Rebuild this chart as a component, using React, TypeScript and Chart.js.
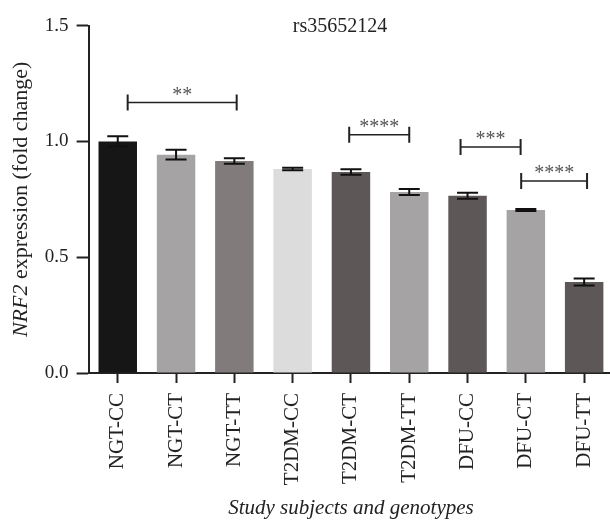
import React, { useEffect, useRef } from "react";
import { Chart, registerables } from "chart.js";

Chart.register(...registerables);

const categories = ["NGT-CC", "NGT-CT", "NGT-TT", "T2DM-CC", "T2DM-CT", "T2DM-TT", "DFU-CC", "DFU-CT", "DFU-TT"];
const means = [1.0, 0.943, 0.916, 0.881, 0.868, 0.782, 0.766, 0.704, 0.393];
const errors = [0.022, 0.021, 0.012, 0.005, 0.012, 0.013, 0.013, 0.004, 0.015];
const barColors = ["#161616", "#a5a3a4", "#817c7b", "#dcdcdc", "#5d5857", "#a5a3a4", "#5d5857", "#a5a3a4", "#5d5857"];
const yTicks = [0, 0.5, 1.0, 1.5];

const sigStart = [0.17, 3.97, 5.88, 6.92];
const sigEnd = [2.04, 5.0, 6.91, 8.05];
const sigY = [1.168, 1.029, 0.976, 0.829];
const sigLabels = ["**", "****", "***", "****"];

const titleText = "rs35652124";
const yTitleItalic = "NRF2";
const yTitleRest = " expression (fold change)";
const xTitleText = "Study subjects and genotypes";

const SERIF = "'Liberation Serif', 'Times New Roman', serif";

function catPx(xs: any, pos: number) {
  const i = Math.floor(pos);
  const p0 = xs.getPixelForValue(i);
  const p1 = xs.getPixelForValue(i + 1);
  return p0 + (pos - i) * (p1 - p0);
}

const overlayPlugin = {
  id: "overlay",
  afterDatasetsDraw(chart: any) {
    const ctx = chart.ctx;
    const xs = chart.scales.x;
    const ys = chart.scales.y;
    const area = chart.chartArea;
    ctx.save();
    // error bars
    ctx.strokeStyle = "#111";
    ctx.lineWidth = 2;
    means.forEach((m, i) => {
      const x = xs.getPixelForValue(i);
      const yTop = ys.getPixelForValue(m + errors[i]);
      const yBot = ys.getPixelForValue(m - errors[i]);
      const half = 10.5;
      ctx.beginPath();
      ctx.moveTo(x, yTop);
      ctx.lineTo(x, yBot);
      ctx.moveTo(x - half, yTop);
      ctx.lineTo(x + half, yTop);
      ctx.moveTo(x - half, yBot);
      ctx.lineTo(x + half, yBot);
      ctx.stroke();
    });
    // significance brackets
    sigLabels.forEach((lab, k) => {
      const x0 = catPx(xs, sigStart[k]);
      const x1 = catPx(xs, sigEnd[k]);
      const y = ys.getPixelForValue(sigY[k]);
      ctx.strokeStyle = "#222";
      ctx.lineWidth = 1.5;
      ctx.beginPath();
      ctx.moveTo(x0, y);
      ctx.lineTo(x1, y);
      ctx.stroke();
      ctx.lineWidth = 2;
      ctx.beginPath();
      ctx.moveTo(x0, y - 8);
      ctx.lineTo(x0, y + 8);
      ctx.moveTo(x1, y - 8);
      ctx.lineTo(x1, y + 8);
      ctx.stroke();
      ctx.fillStyle = "#555";
      ctx.font = `20px ${SERIF}`;
      ctx.textAlign = "center";
      ctx.textBaseline = "alphabetic";
      ctx.fillText(lab, (x0 + x1) / 2, y - 2);
    });
    // title
    ctx.fillStyle = "#222";
    ctx.font = `20px ${SERIF}`;
    ctx.textAlign = "center";
    ctx.textBaseline = "alphabetic";
    ctx.fillText(titleText, (area.left + area.right) / 2 - 11, area.top + 6);
    // x title
    ctx.font = `italic 21px ${SERIF}`;
    ctx.fillText(xTitleText, (area.left + area.right) / 2, 514);
    // y title
    ctx.translate(27, (area.top + area.bottom) / 2);
    ctx.rotate(-Math.PI / 2);
    ctx.textAlign = "left";
    ctx.font = `italic 22px ${SERIF}`;
    const w1 = ctx.measureText(yTitleItalic).width;
    ctx.font = `22px ${SERIF}`;
    const w2 = ctx.measureText(yTitleRest).width;
    const start = -(w1 + w2) / 2;
    ctx.font = `italic 22px ${SERIF}`;
    ctx.fillText(yTitleItalic, start, 0);
    ctx.font = `22px ${SERIF}`;
    ctx.fillText(yTitleRest, start + w1, 0);
    ctx.restore();
  },
};

export default function App() {
  const ref = useRef<HTMLCanvasElement | null>(null);
  useEffect(() => {
    if (!ref.current) return;
    const chart = new Chart(ref.current, {
      type: "bar",
      data: {
        labels: categories,
        datasets: [
          {
            data: means,
            backgroundColor: barColors,
            borderWidth: 0,
            barPercentage: 0.66,
            categoryPercentage: 1.0,
          },
        ],
      },
      options: {
        responsive: false,
        animation: false,
        devicePixelRatio: 1,
        layout: { padding: { left: 0, right: 6.7, top: 25.7, bottom: 0 } },
        plugins: {
          legend: { display: false },
          tooltip: { enabled: false },
          title: { display: false },
        },
        scales: {
          x: {
            offset: true,
            grid: {
              offset: false,
              drawOnChartArea: false,
              drawTicks: true,
              tickLength: 10,
              tickWidth: 2,
              tickColor: "#222",
              color: "#222",
            },
            border: { display: true, color: "#222", width: 2 },
            ticks: {
              color: "#222",
              font: { family: SERIF, size: 21 },
              minRotation: 90,
              maxRotation: 90,
              padding: 10,
              autoSkip: false,
            },
            afterFit: (s: any) => {
              s.height = 147;
            },
          },
          y: {
            min: 0,
            max: 1.5,
            afterBuildTicks: (s: any) => {
              s.ticks = yTicks.map((v) => ({ value: v }));
            },
            grid: {
              drawOnChartArea: false,
              drawTicks: true,
              tickLength: 12,
              tickWidth: 2,
              tickColor: "#222",
              color: "#222",
            },
            border: { display: true, color: "#222", width: 2 },
            ticks: {
              color: "#222",
              font: { family: SERIF, size: 19 },
              padding: 8,
              callback: (v: any) => Number(v).toFixed(1),
            },
            afterFit: (s: any) => {
              s.width = 88.6;
            },
          },
        },
      },
      plugins: [overlayPlugin],
    });
    return () => chart.destroy();
  }, []);
  return (
    <div style={{ position: "fixed", left: 0, top: 0, width: 610, height: 520, overflow: "hidden", background: "#fff" }}>
      <canvas ref={ref} width={620} height={520} style={{ width: 620, height: 520, display: "block" }} />
    </div>
  );
}
